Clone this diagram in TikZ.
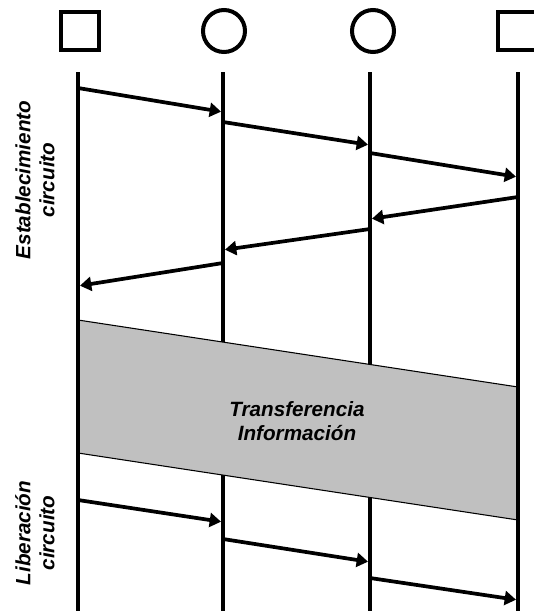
\documentclass[tikz,border=0pt]{standalone}
\usepackage{fontspec}
\setmainfont{Liberation Sans}
\usetikzlibrary{arrows.meta}
\definecolor{bandgray}{RGB}{192,192,192}
\begin{document}
\begin{tikzpicture}[x=0.75pt,y=-0.75pt,
    lifeline/.style={line width=3.5pt},
    msg/.style={line width=2.8pt,shorten >=1.5pt,-{Triangle[length=8.5pt,width=10.5pt]}},
    lbl/.style={font=\fontsize{15.5}{18}\selectfont\bfseries\itshape,align=center}]
    \useasboundingbox (0,0) rectangle (534,611);
    % terminals and switches
    \node[draw,line width=3pt,minimum size=28.5pt,inner sep=0pt] (T1) at (80,31) {};
    \node[draw,circle,line width=3pt,minimum size=31.5pt,inner sep=0pt] (S1) at (224,31) {};
    \node[draw,circle,line width=3pt,minimum size=31.5pt,inner sep=0pt] (S2) at (373,31) {};
    \node[draw,line width=3pt,minimum size=28.5pt,inner sep=0pt] (T2) at (517,31) {};
    \coordinate (L1) at (78,72);
    \coordinate (L2) at (223,72);
    \coordinate (L3) at (370,72);
    \coordinate (L4) at (518,72);
    \draw[lifeline] (L2) -- (L2 |- 0,611);
    \draw[lifeline] (L3) -- (L3 |- 0,611);
    % information transfer
    \filldraw[fill=bandgray,draw=black,line width=0.8pt] (L1 |- 0,320) -- (L4 |- 0,387) -- (L4 |- 0,520) -- (L1 |- 0,453) -- cycle;
    \node[lbl] (TI) at (297,421) {Transferencia\\Informaci\'on};
    \draw[lifeline] (L1) -- (L1 |- 0,611);
    \draw[lifeline] (L4) -- (L4 |- 0,611);
    % setup
    \draw[msg] (L1 |- 0,88) -- (L2 |- 0,112);
    \draw[msg] (L2 |- 0,122) -- (L3 |- 0,145);
    \draw[msg] (L3 |- 0,153) -- (L4 |- 0,177);
    \draw[msg] (L4 |- 0,197) -- (L3 |- 0,219);
    \draw[msg] (L3 |- 0,229) -- (L2 |- 0,250);
    \draw[msg] (L2 |- 0,263) -- (L1 |- 0,286);
    % release
    \draw[msg] (L1 |- 0,500) -- (L2 |- 0,522);
    \draw[msg] (L2 |- 0,539) -- (L3 |- 0,562);
    \draw[msg] (L3 |- 0,578) -- (L4 |- 0,600);
    \node[lbl,rotate=90] (EC) at (35,180) {Establecimiento\\circuito};
    \node[lbl,rotate=90] (LC) at (35,533) {Liberaci\'on\\circuito};
\end{tikzpicture}
\end{document}
